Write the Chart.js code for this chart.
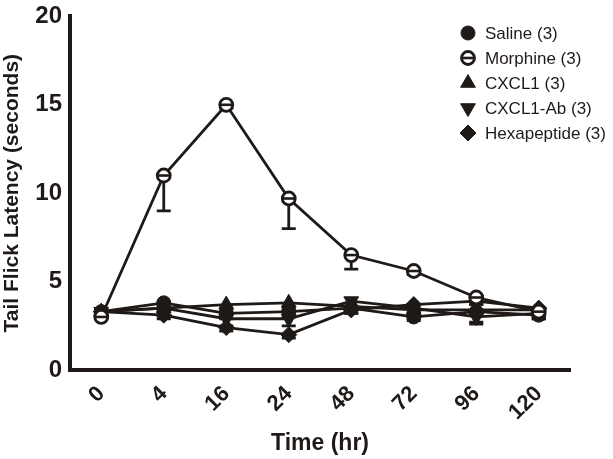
<!DOCTYPE html>
<html>
<head>
<meta charset="utf-8">
<script src="https://cdn.jsdelivr.net/npm/chart.js@4/dist/chart.umd.min.js"></script>
<style>
html,body{margin:0;padding:0;background:#fff;}
#wrap{position:relative;width:613px;height:459px;}
</style>
</head>
<body>
<div id="wrap"><canvas id="c" width="613" height="459"></canvas></div>
<script>
const timeLabels = ['0','4','16','24','48','72','96','120'];
const saline      = [3.3, 3.8, 3.2, 3.3, 3.5, 3.0, 3.3, 3.1];
const morphine    = [3.0, 11.0, 15.0, 9.7, 6.5, 5.6, 4.1, 3.3];
const cxcl1       = [3.3, 3.5, 3.7, 3.8, 3.6, 3.4, 3.4, 3.4];
const cxcl1Ab     = [3.3, 3.5, 2.9, 2.9, 3.9, 3.5, 3.0, 3.2];
const hexapeptide = [3.3, 3.1, 2.4, 2.0, 3.4, 3.7, 3.9, 3.5];
const salineErr      = [0, 0.2, 0.3, 0.3, 0.3, 0.2, 0.6, 0.2];
const morphineErr    = [0, 2.0, 0.2, 1.7, 0.8, 0.2, 0.4, 0.2];
const cxcl1Err       = [0, 0.2, 0.3, 0.3, 0.2, 0.2, 0.3, 0.2];
const cxcl1AbErr     = [0, 0.2, 0.4, 0.4, 0.3, 0.2, 0.4, 0.3];
const hexapeptideErr = [0, 0.2, 0.2, 0.2, 0.2, 0.2, 0.2, 0.2];
const seriesNames = ['Saline (3)','Morphine (3)','CXCL1 (3)','CXCL1-Ab (3)','Hexapeptide (3)'];

const INK = '#1f1a17';
const FONT = '"Liberation Sans", Arial, sans-serif';

const styles = [
  {pointStyle:'circle',   radius:7,   rotation:0,   bg:INK,    bw:1},
  {pointStyle:'circle',   radius:6.5, rotation:0,   bg:'#fff', bw:2.8, bar:true},
  {pointStyle:'triangle', radius:8.5, rotation:0,   bg:INK,    bw:1},
  {pointStyle:'triangle', radius:8.5, rotation:180, bg:INK,    bw:1},
  {pointStyle:'rectRot',  radius:8,   rotation:0,   bg:INK,    bw:1}
];
const values = [saline, morphine, cxcl1, cxcl1Ab, hexapeptide];
const errs = [salineErr, morphineErr, cxcl1Err, cxcl1AbErr, hexapeptideErr];

const datasets = values.map((v,i)=>({
  label: seriesNames[i],
  data: v,
  borderColor: INK,
  backgroundColor: INK,
  borderWidth: 2.8,
  pointStyle: styles[i].pointStyle,
  pointRadius: styles[i].radius,
  pointRotation: styles[i].rotation,
  pointBackgroundColor: styles[i].bg,
  pointBorderColor: INK,
  pointBorderWidth: styles[i].bw,
  tension: 0,
  order: i===1 ? 0 : 1
}));

const errorBarPlugin = {
  id:'errbars',
  beforeDatasetsDraw(chart){
    const {ctx, scales:{x,y}} = chart;
    ctx.save();
    ctx.strokeStyle = INK; ctx.lineWidth = 2.8;
    errs.forEach((e,si)=>{
      e.forEach((d,i)=>{
        if(!d) return;
        const px = x.getPixelForValue(i);
        const py = y.getPixelForValue(values[si][i]);
        const pl = y.getPixelForValue(values[si][i]-d);
        ctx.beginPath(); ctx.moveTo(px,py); ctx.lineTo(px,pl);
        ctx.moveTo(px-7,pl); ctx.lineTo(px+7,pl); ctx.stroke();
      });
    });
    ctx.restore();
  },
  afterDatasetsDraw(chart){
    const {ctx} = chart;
    const meta = chart.getDatasetMeta(1);
    ctx.save();
    ctx.strokeStyle = INK; ctx.lineWidth = 2.6;
    meta.data.forEach(pt=>{
      ctx.beginPath(); ctx.moveTo(pt.x-6, pt.y); ctx.lineTo(pt.x+6, pt.y); ctx.stroke();
    });
    ctx.restore();
  }
};

const legendPlugin = {
  id:'customLegend',
  afterDraw(chart){
    const ctx = chart.ctx;
    ctx.save();
    ctx.font = '17px ' + FONT;
    ctx.textBaseline = 'middle';
    seriesNames.forEach((n,i)=>{
      const yy = 33 + i*25;
      const st = styles[i];
      ctx.fillStyle = st.bg; ctx.strokeStyle = INK; ctx.lineWidth = st.bw;
      Chart.helpers.drawPoint(ctx, {pointStyle:st.pointStyle, radius:st.radius, rotation:st.rotation, borderWidth:st.bw}, 468, yy);
      if(st.bar){ ctx.lineWidth = 2.6; ctx.beginPath(); ctx.moveTo(462,yy); ctx.lineTo(474,yy); ctx.stroke(); }
      ctx.fillStyle = INK;
      ctx.fillText(n, 485, yy+1);
    });
    ctx.restore();
  }
};

new Chart(document.getElementById('c'), {
  type:'line',
  data:{ labels: timeLabels, datasets },
  options:{
    responsive:false,
    animation:false,
    layout:{ padding:{ top:5, right:43, left:0, bottom:0 } },
    plugins:{ legend:{display:false}, tooltip:{enabled:false} },
    scales:{
      x:{
        offset:true,
        grid:{ display:false, drawOnChartArea:false, drawTicks:true, tickLength:6, tickWidth:3, tickColor:INK },
        border:{ display:true, color:INK, width:4 },
        ticks:{ color:INK, maxRotation:45, minRotation:45, padding:5,
          font:{ family:FONT, size:22, weight:'bold' } },
        title:{ display:true, text:'Time (hr)', color:INK, padding:{top:0,bottom:2},
          font:{ family:FONT, size:23, weight:'bold' } },
        afterFit(s){ s.height = 89; }
      },
      y:{
        min:0, max:20,
        grid:{ display:false, drawOnChartArea:false, drawTicks:true, tickLength:6, tickWidth:3, tickColor:INK },
        border:{ display:true, color:INK, width:4 },
        ticks:{ stepSize:5, color:INK, padding:2,
          font:{ family:FONT, size:24, weight:'bold' } },
        title:{ display:true, text:'Tail Flick Latency (seconds)', color:INK, padding:{top:0,bottom:4},
          font:{ family:FONT, size:21, weight:'bold' } },
        afterFit(s){ s.width = 70; }
      }
    }
  },
  plugins:[errorBarPlugin, legendPlugin]
});
</script>
</body>
</html>
